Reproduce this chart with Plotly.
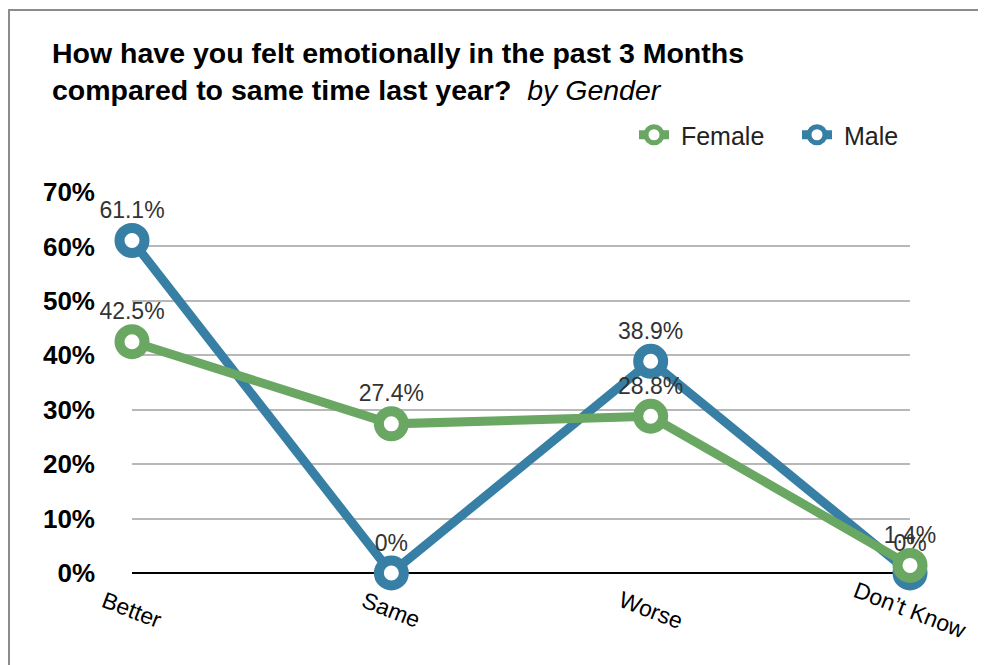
import plotly.graph_objects as go

categories = ["Better", "Same", "Worse", "Don’t Know"]
female = [42.5, 27.4, 28.8, 1.4]
male = [61.1, 0.0, 38.9, 0.0]
female_labels = ["42.5%", "27.4%", "28.8%", "1.4%"]
male_labels = ["61.1%", "0%", "38.9%", "0%"]
y_ticks = [0, 10, 20, 30, 40, 50, 60, 70]
y_tick_labels = ["0%", "10%", "20%", "30%", "40%", "50%", "60%", "70%"]

GREEN = "#69a762"
BLUE = "#377fa4"
FONT = "Liberation Sans, Arial, sans-serif"

OFF = 8  # page body margin
W, H = 986 - OFF, 665 - OFF
L, R, T, B = 132 - OFF, 76, 192 - OFF, 92
pw, ph = W - L - R, H - T - B

def px(x):  # page pixel -> paper
    return (x - OFF - L) / pw

def py(y):
    return (H - B - (y - OFF)) / ph

fig = go.Figure()
for name, vals, labels, color, rank in [
    ("Male", male, male_labels, BLUE, 2),
    ("Female", female, female_labels, GREEN, 1),
]:
    fig.add_trace(go.Scatter(
        x=categories, y=vals, name="\u00a0" + name, mode="lines+markers+text",
        text=labels, textposition="top center",
        textfont=dict(family=FONT, size=23, color="#333333"),
        line=dict(color=color, width=9),
        marker=dict(size=25, color="white", line=dict(color=color, width=10)),
        cliponaxis=False, legendrank=rank,
    ))

fig.update_layout(
    width=W, height=H,
    margin=dict(l=L, r=R, t=T, b=B, autoexpand=False),
    paper_bgcolor="white", plot_bgcolor="white",
    font=dict(family=FONT, color="#111111"),
    showlegend=True,
    legend=dict(orientation="h", x=px(634), y=py(135), xanchor="left", yanchor="middle",
                font=dict(family=FONT, size=25, color="#222222"), itemwidth=30,
                entrywidth=118, entrywidthmode="pixels",
                bgcolor="rgba(0,0,0,0)"),
    xaxis=dict(type="category", range=[0, 3], showgrid=False, showticklabels=False,
               zeroline=False, showline=False, ticks=""),
    yaxis=dict(range=[0, 70], tickvals=y_ticks, ticktext=y_tick_labels,
               showgrid=True, gridcolor="#b8b8b8", gridwidth=2,
               zeroline=True, zerolinecolor="#000000", zerolinewidth=2,
               tickfont=dict(family=FONT, size=26, color="#000000", weight="bold"),
               ticklabelstandoff=36, ticks="", showline=False),
)

# frame
fig.add_shape(type="rect", xref="paper", yref="paper",
              x0=px(9), x1=px(983), y0=py(720), y1=py(10),
              line=dict(color="#8c8c8c", width=2), layer="below")

# title
fig.add_annotation(xref="paper", yref="paper", x=px(50), y=py(35),
                   xanchor="left", yanchor="top", align="left", showarrow=False,
                   text="<b>How have you felt emotionally in the past 3 Months</b><br>"
                        "<b>compared to same time last year?</b>  <i>by Gender</i>",
                   font=dict(family=FONT, size=28.5, color="#000000"))

# rotated category labels
for c in categories:
    fig.add_annotation(x=c, y=0, xref="x", yref="y", yshift=-37,
                       text=c, textangle=21, showarrow=False,
                       font=dict(family=FONT, size=23, color="#000000"))

fig.write_html("out.html")
